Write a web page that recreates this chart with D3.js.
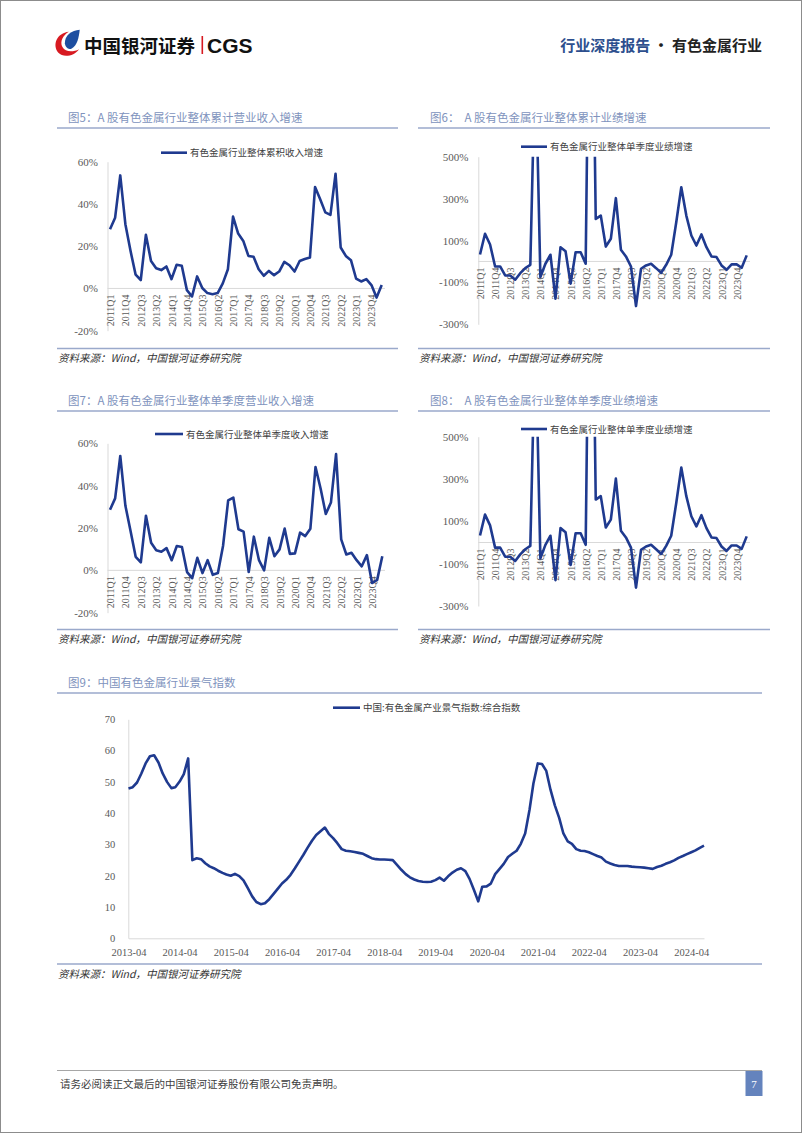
<!DOCTYPE html>
<html><head><meta charset="utf-8">
<script src="https://cdn.jsdelivr.net/npm/d3@7"></script>
<style>
body{margin:0;background:#fff;}
svg{display:block;}
</style></head><body>
<svg id="page" width="802" height="1133"></svg>
<script>
// ---------- data ----------
const quarters = ["2011Q1","2011Q2","2011Q3","2011Q4","2012Q1","2012Q2","2012Q3","2012Q4",
"2013Q1","2013Q2","2013Q3","2013Q4","2014Q1","2014Q2","2014Q3","2014Q4",
"2015Q1","2015Q2","2015Q3","2015Q4","2016Q1","2016Q2","2016Q3","2016Q4",
"2017Q1","2017Q2","2017Q3","2017Q4","2018Q1","2018Q2","2018Q3","2018Q4",
"2019Q1","2019Q2","2019Q3","2019Q4","2020Q1","2020Q2","2020Q3","2020Q4",
"2021Q1","2021Q2","2021Q3","2021Q4","2022Q1","2022Q2","2022Q3","2022Q4",
"2023Q1","2023Q2","2023Q3","2023Q4","2024Q1","2024Q2"];

// 图5 累计营业收入增速 (%)
const cumRevenueGrowth = [28,33.5,53.5,30.4,17.8,6.5,4,25.4,13,9.6,
8.7,10.4,4.4,11.2,10.7,-0.8,-3.8,5.7,0.2,-2.2,
-2.7,-2.2,2.4,9.1,34,26,22.5,15.4,15,9.1,
6,8.3,6.3,8,12.6,11,8,13,13.9,14.6,
48,42.2,36,34.8,54.3,19.4,15.4,13.4,4.7,3.3,
4.4,1.6,-4.3,1.6];

// 图6 业绩增速 (%)
const cumProfitGrowth = [33,132,81,-24,-24,-67,-67,-87,-56,-32,
-16,1000,-75,-11,32,-178,68,49,-106,44,
44,-11,2000,203,219,71,108,302,56,24,
-24,-213,-35,-19,-11,-32,-54,-16,32,187,
354,219,124,76,129,68,24,21,-19,-40,
-14,-14,-30,29];

// 图7 单季度营业收入增速 (%)
const qRevenueGrowth = [28.6,34,54,30.5,18.6,6.4,3.8,25.8,13,9.5,
8.8,10.5,4.8,11.5,11,-0.8,-3.7,5.9,-1.3,4.8,
-2.1,-1.3,11.5,33,34.4,19.4,18.3,-0.8,15.9,4.8,
0,15.4,6.7,9.9,19.7,7.8,8,17.8,16.2,19.7,
48.8,38.5,26.6,32,54.9,14.6,7.5,8.3,4.8,1.9,
7.2,-6,-4.5,6.7];

// 图8 单季度业绩增速 (%)
const qProfitGrowth = [33,132,81,-24,-24,-67,-67,-87,-56,-32,
-16,1000,-75,-11,32,-178,68,49,-106,44,
44,-11,2000,203,219,71,108,302,56,24,
-24,-213,-35,-19,-11,-32,-54,-16,32,187,
354,219,124,76,129,68,24,21,-19,-40,
-14,-14,-30,29];

const pctTicksRevenue = [-20,0,20,40,60];
const pctTicksProfit = [-300,-100,100,300,500];

// 图9 景气指数 (monthly from 2013-04)
const indexStart = "2013-04";
const prosperityIndex = [47.9,48.3,49.8,52.6,55.9,58.2,58.5,56.2,52.7,50.0,48.0,48.3,50.1,52.5,57.5,
25.0,25.6,25.3,24.0,23.0,22.4,21.6,20.9,20.4,20.0,20.6,19.9,18.5,16.0,13.4,
11.6,10.9,11.2,12.5,14.2,15.8,17.5,18.7,20.3,22.3,24.5,26.7,29.0,31.2,33.0,
34.2,35.4,33.4,32.0,30.4,28.5,28.0,27.8,27.6,27.3,27.0,26.3,25.6,25.3,25.2,
25.2,25.1,25.0,23.5,21.9,20.5,19.5,18.8,18.3,18.1,18.0,18.1,18.6,19.4,18.4,
19.8,21.0,21.9,22.4,21.5,19.0,15.5,11.8,16.5,16.6,17.5,20.5,22.1,23.8,26.0,
27.0,28.0,30.2,33.5,41.0,49.5,55.9,55.7,53.5,47.5,42.5,38.5,33.5,31.0,30.2,
28.5,28.0,27.9,27.5,26.9,26.3,25.8,24.5,23.9,23.4,23.1,23.1,23.1,22.9,22.8,
22.7,22.6,22.4,22.2,22.8,23.2,23.8,24.3,24.9,25.7,26.3,26.9,27.5,28.1,28.9,29.6];
const indexTickLabels = ["2013-04","2014-04","2015-04","2016-04","2017-04","2018-04","2019-04","2020-04","2021-04","2022-04","2023-04","2024-04"];
const indexYTicks = [0,10,20,30,40,50,60,70];

// ---------- style ----------
const LINE = "#1f3a8f";
const TITLE = "#8093bd";
const RULE = "#9aa9cb";
const CJK = "'Noto Sans CJK SC','Noto Sans',sans-serif";
const SERIF = "'Liberation Serif','DejaVu Serif',serif";

const svg = d3.select('#page');
svg.append('rect').attr('x',0.5).attr('y',0.5).attr('width',801).attr('height',1132)
  .attr('fill','#fff').attr('stroke','#8c8c8c');

// ---------- header ----------
const logo = svg.append('g').attr('transform','translate(68,44) rotate(-10)');
logo.append('path').attr('fill','#d71a21')
  .attr('d','M 3,-12 C -9,-13 -16,-2 -11,7 C -7,13 4,13 10,7 C 4,9 -4,8 -6,2 C -8,-4 -3,-10 3,-12 Z');
logo.append('path').attr('fill','#1d4ea0')
  .attr('d','M -3,-1 C -2,-9 6,-13 14,-12 C 12,-5 9,3 3,5 C -1,6 -3,3 -3,-1 Z');
svg.append('text').attr('x',84).attr('y',52.5).text('中国银河证券')
  .attr('font-family',CJK).attr('font-weight',700).attr('font-size',18.5).attr('fill','#111');
svg.append('rect').attr('x',201.5).attr('y',36).attr('width',1.6).attr('height',18).attr('fill','#d71a21');
svg.append('text').attr('x',207).attr('y',53).text('CGS')
  .attr('font-family',"'Liberation Sans',Arial,sans-serif").attr('font-weight',700).attr('font-size',21).attr('fill','#111');
const hr = svg.append('text').attr('x',762).attr('y',50.5).attr('text-anchor','end')
  .attr('font-family',CJK).attr('font-weight',700).attr('font-size',15);
hr.append('tspan').attr('fill','#2d4f8e').text('行业深度报告');
hr.append('tspan').attr('fill','#222').text(' · 有色金属行业');

// ---------- helpers ----------
function titleBlock(t, x, y, x0, x1) {
  svg.append('text').attr('x',x).attr('y',y).text(t).style('white-space','pre')
    .attr('font-family',CJK).attr('font-size',11.5).attr('fill',TITLE);
  svg.append('line').attr('x1',x0).attr('x2',x1).attr('y1',y+6).attr('y2',y+6)
    .attr('stroke',RULE).attr('stroke-width',1.5);
}
function sourceBlock(x0, x1, y) {
  svg.append('line').attr('x1',x0).attr('x2',x1).attr('y1',y).attr('y2',y)
    .attr('stroke',RULE).attr('stroke-width',1.5);
  svg.append('text').attr('x',x0+1).attr('y',y+13.5).text('资料来源：Wind，中国银河证券研究院')
    .attr('font-family',CJK).attr('font-style','italic').attr('font-size',10.5).attr('fill','#333');
}
function legend(x0, x1, y, label) {
  svg.append('line').attr('x1',x0).attr('x2',x1).attr('y1',y).attr('y2',y)
    .attr('stroke',LINE).attr('stroke-width',2.6);
  svg.append('text').attr('x',x1+3).attr('y',y+3.5).text(label)
    .attr('font-family',CJK).attr('font-size',9.5).attr('fill','#404040');
}

let clipId = 0;
function quarterChart(o) {
  const g = svg.append('g');
  const x = d3.scalePoint().domain(quarters).range([o.x0, o.x1]);
  const y = d3.scaleLinear().domain(o.domain).range([o.yBottom, o.yTop]);
  const ya = g.append('g').attr('transform',`translate(${o.axisX},0)`)
    .call(d3.axisLeft(y).tickValues(o.ticks).tickFormat(d => d + '%').tickSize(0).tickSizeOuter(0).tickPadding(o.pad));
  ya.select('.domain').attr('stroke','#d9d9d9');
  ya.selectAll('text').attr('font-family',SERIF).attr('font-size',11).attr('fill','#595959');
  const y0 = y(0);
  g.append('line').attr('x1',o.axisX).attr('x2',o.zeroEnd).attr('y1',y0).attr('y2',y0)
    .attr('stroke','#d9d9d9').attr('stroke-width',1);
  const xa = g.append('g').attr('transform',`translate(0,${y0})`)
    .call(d3.axisBottom(x).tickValues(quarters.filter((d,i) => i % 3 === 0)).tickSize(0));
  xa.select('.domain').remove();
  xa.selectAll('text').attr('transform','rotate(-90)').attr('text-anchor','end')
    .attr('x',-6).attr('y',0).attr('dy','0.35em')
    .attr('font-family',SERIF).attr('font-size',10).attr('fill','#595959');
  const id = 'clip' + (clipId++);
  g.append('clipPath').attr('id',id).append('rect')
    .attr('x',o.axisX).attr('y',o.yTop).attr('width',o.zeroEnd - o.axisX).attr('height',o.yBottom - o.yTop);
  g.append('path').datum(o.values).attr('clip-path',`url(#${id})`)
    .attr('fill','none').attr('stroke',LINE).attr('stroke-width',2.6).attr('stroke-linejoin','round')
    .attr('d', d3.line().x((d,i) => x(quarters[i])).y(d => y(d)));
}

// ---------- 图5 ----------
titleBlock('图5：A 股有色金属行业整体累计营业收入增速', 68, 122, 57, 398);
legend(161, 187, 152.7, '有色金属行业整体累积收入增速');
quarterChart({values: cumRevenueGrowth, domain: [-20,60], ticks: pctTicksRevenue,
  x0: 110, x1: 381.7, yTop: 161.7, yBottom: 330.7, axisX: 107.5, zeroEnd: 385, pad: 9.5});
sourceBlock(57, 398, 348.5);

// ---------- 图6 ----------
titleBlock('图6：  A 股有色金属行业整体累计业绩增速', 430, 122, 418, 770);
legend(521, 547, 146.7, '有色金属行业整体单季度业绩增速');
quarterChart({values: cumProfitGrowth, domain: [-300,500], ticks: pctTicksProfit,
  x0: 480, x1: 746.7, yTop: 156.7, yBottom: 324.3, axisX: 478.3, zeroEnd: 750, pad: 10});
sourceBlock(418, 770, 348.5);

// ---------- 图7 ----------
titleBlock('图7：A 股有色金属行业整体单季度营业收入增速', 68, 405, 57, 398);
legend(155, 183, 434, '有色金属行业整体单季度收入增速');
quarterChart({values: qRevenueGrowth, domain: [-20,60], ticks: pctTicksRevenue,
  x0: 110, x1: 382.3, yTop: 443.3, yBottom: 612.7, axisX: 107.5, zeroEnd: 385, pad: 9.5});
sourceBlock(57, 398, 629.5);

// ---------- 图8 ----------
titleBlock('图8：  A 股有色金属行业整体单季度业绩增速', 430, 405, 418, 770);
legend(521, 547, 429, '有色金属行业整体单季度业绩增速');
quarterChart({values: qProfitGrowth, domain: [-300,500], ticks: pctTicksProfit,
  x0: 480, x1: 746.7, yTop: 436.7, yBottom: 606, axisX: 478.3, zeroEnd: 750, pad: 10});
sourceBlock(418, 770, 629.5);

// ---------- 图9 ----------
titleBlock('图9：中国有色金属行业景气指数', 68, 687, 57, 762);
legend(333, 360, 707.7, '中国:有色金属产业景气指数:综合指数');
(function(){
  const parse = d3.timeParse('%Y-%m');
  const start = parse(indexStart);
  const dates = prosperityIndex.map((d,i) => d3.timeMonth.offset(start, i));
  const x = d3.scaleTime().domain([dates[0], dates[dates.length-1]]).range([128.5, 704]);
  const y = d3.scaleLinear().domain([0,70]).range([938.3, 719.3]);
  const g = svg.append('g');
  const ya = g.append('g').attr('transform','translate(128.3,0)')
    .call(d3.axisLeft(y).tickValues(indexYTicks).tickSize(0).tickSizeOuter(0).tickPadding(13));
  ya.select('.domain').attr('stroke','#d9d9d9');
  ya.selectAll('text').attr('font-family',SERIF).attr('font-size',10.5).attr('fill','#595959');
  const xa = g.append('g').attr('transform',`translate(0,${y(0)})`)
    .call(d3.axisBottom(x).tickValues(indexTickLabels.map(parse)).tickFormat(d3.timeFormat('%Y-%m')).tickSize(0).tickSizeOuter(0).tickPadding(10));
  xa.select('.domain').attr('stroke','#d9d9d9');
  xa.selectAll('text').attr('font-family',SERIF).attr('font-size',10.5).attr('fill','#595959');
  g.append('path').datum(prosperityIndex)
    .attr('fill','none').attr('stroke',LINE).attr('stroke-width',2.6).attr('stroke-linejoin','round')
    .attr('d', d3.line().x((d,i) => x(dates[i])).y(d => y(d)));
})();
sourceBlock(57, 762, 964);

// ---------- footer ----------
svg.append('line').attr('x1',57).attr('x2',762).attr('y1',1070.5).attr('y2',1070.5)
  .attr('stroke','#a6a6a6').attr('stroke-width',1);
svg.append('text').attr('x',60).attr('y',1088).text('请务必阅读正文最后的中国银河证券股份有限公司免责声明。')
  .attr('font-family',CJK).attr('font-size',10.5).attr('fill','#404040');
svg.append('rect').attr('x',745.5).attr('y',1071).attr('width',17).attr('height',25).attr('fill','#6483bd');
svg.append('text').attr('x',754).attr('y',1088).attr('text-anchor','middle').text('7')
  .attr('font-family',SERIF).attr('font-size',11).attr('fill','#fff');
</script>
</body></html>
